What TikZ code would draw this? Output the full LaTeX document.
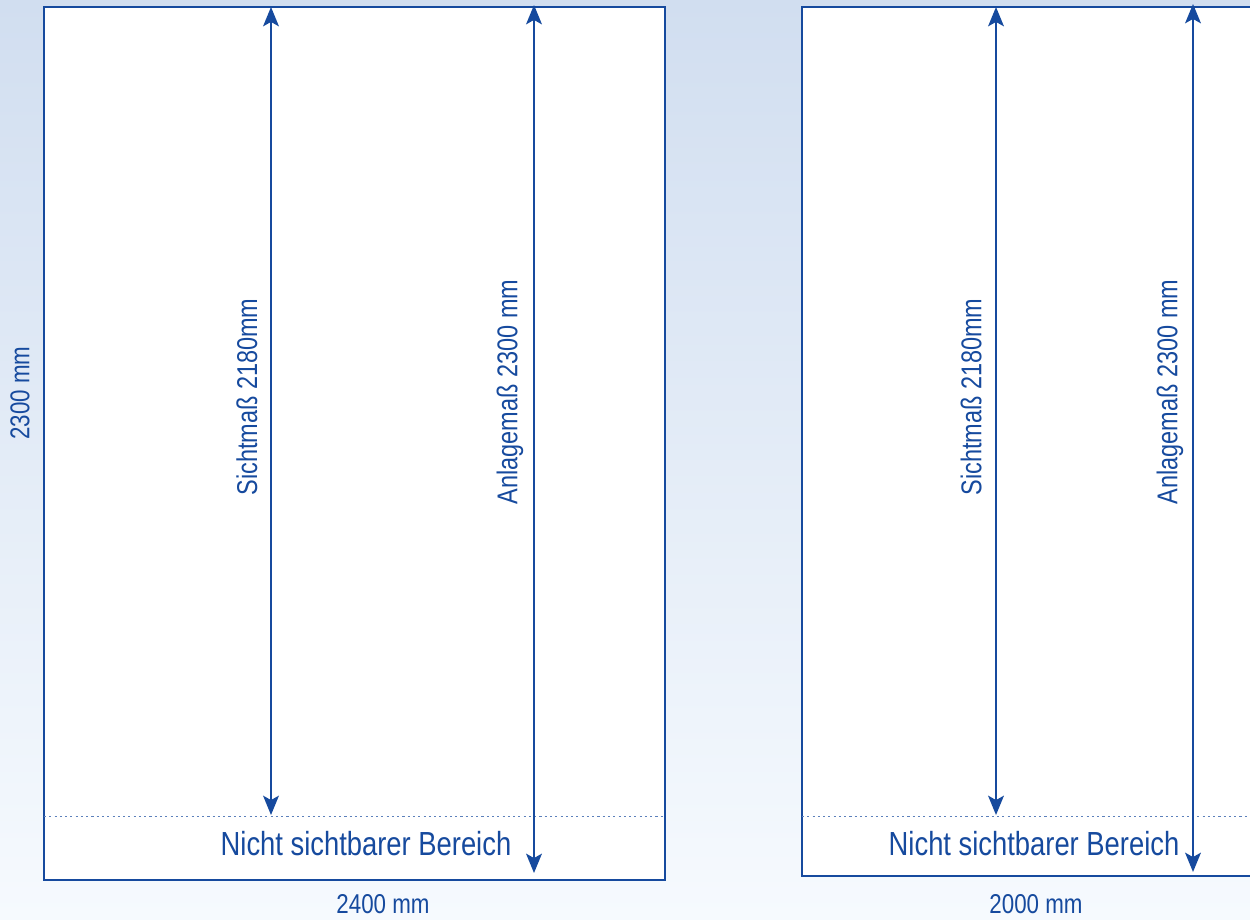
\documentclass[tikz,border=0pt]{standalone}
\usepackage{fontspec}
\setmainfont{Liberation Sans}[FakeStretch=0.82]
\usetikzlibrary{arrows.meta}

\definecolor{planblue}{RGB}{22,74,158}
\definecolor{bgtop}{RGB}{209,222,240}
\definecolor{bgbottom}{RGB}{246,250,254}

\tikzset{
    frame/.style = {draw = planblue, line width = 1.4pt, fill = white},
    dim/.style = {draw = planblue, line width = 1.1pt, {Stealth[length = 11pt, width = 9pt, inset = 2.5pt]}-{Stealth[length = 11pt, width = 9pt, inset = 2.5pt]}},
    hidden/.style = {draw = planblue!70, line width = 0.5pt, dash pattern = on 1.2pt off 1.8pt},
    dimtext/.style = {text = planblue, font = \fontsize{16.3}{19}\selectfont, inner sep = 0pt},
    sizetext/.style = {text = planblue, font = \fontsize{15.5}{18}\selectfont, inner sep = 0pt},
    areatext/.style = {text = planblue, font = \fontsize{19}{22}\selectfont, inner sep = 0pt},
}

\begin{document}
\begin{tikzpicture}[x = 0.02cm, y = -0.02cm]
            \useasboundingbox (0, 0) rectangle (1250, 919);
            \shade[top color = bgtop, bottom color = bgbottom] (0, 0) rectangle (1250, 919);
            \clip (0, 0) rectangle (1250, 919);

            % left panel
            \coordinate (left_nw) at (44, 7);
            \coordinate (left_se) at (665, 880);
            \draw[frame] (left_nw) rectangle (left_se);
            \coordinate (left_hid_w) at (44, 816);
            \coordinate (left_hid_e) at (665, 816);
            \draw[hidden] (left_hid_w) -- (left_hid_e);

            \coordinate (left_sicht_top) at (271, 7);
            \coordinate (left_sicht_bot) at (271, 815);
            \draw[dim] (left_sicht_bot) -- (left_sicht_top);
            \node[dimtext, rotate = 90] (left_sicht) at (247, 397) {Sichtmaß 2180mm};

            \coordinate (left_anl_top) at (534, 5);
            \coordinate (left_anl_bot) at (534, 873);
            \draw[dim] (left_anl_bot) -- (left_anl_top);
            \node[dimtext, rotate = 90] (left_anl) at (510, 392) {Anlagemaß 2300 mm};

            \node[areatext] (left_hidden) at (366, 844) {Nicht sichtbarer Bereich};
            \node[sizetext] (left_width) at (383, 904) {2400 mm};
            \node[sizetext, rotate = 90] (left_height) at (20, 393) {2300 mm};

            % right panel
            \coordinate (right_nw) at (802, 7);
            \coordinate (right_se) at (1262, 876);
            \draw[frame] (right_nw) rectangle (right_se);
            \coordinate (right_hid_w) at (802, 816);
            \coordinate (right_hid_e) at (1262, 816);
            \draw[hidden] (right_hid_w) -- (right_hid_e);

            \coordinate (right_sicht_top) at (996, 7);
            \coordinate (right_sicht_bot) at (996, 815);
            \draw[dim] (right_sicht_bot) -- (right_sicht_top);
            \node[dimtext, rotate = 90] (right_sicht) at (971, 397) {Sichtmaß 2180mm};

            \coordinate (right_anl_top) at (1193, 4);
            \coordinate (right_anl_bot) at (1193, 872);
            \draw[dim] (right_anl_bot) -- (right_anl_top);
            \node[dimtext, rotate = 90] (right_anl) at (1170, 392) {Anlagemaß 2300 mm};

            \node[areatext] (right_hidden) at (1034, 844) {Nicht sichtbarer Bereich};
            \node[sizetext] (right_width) at (1036, 904) {2000 mm};
        \end{tikzpicture}
\end{document}
